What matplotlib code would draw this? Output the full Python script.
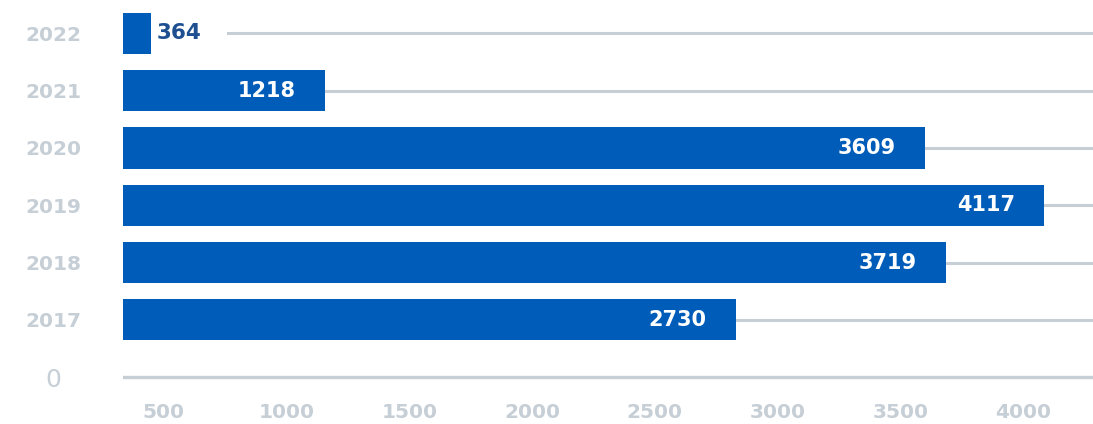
import matplotlib
matplotlib.use("Agg")
import matplotlib.pyplot as plt

# Data
years = ["2017", "2018", "2019", "2020", "2021", "2022"]
values = [2730, 3719, 4117, 3609, 1218, 364]          # printed labels
bar_ends = [2831, 3686, 4086, 3601, 1157, 448]       # drawn bar extents
bar_start = 334
x_ticks = [500, 1000, 1500, 2000, 2500, 3000, 3500, 4000]
y_labels = ["0"] + years

BLUE = "#005cb9"
GRAY = "#c6ced6"
DARK = "#1d4f91"
FONT = "DejaVu Sans"

fig = plt.figure(figsize=(10.93, 4.24), dpi=100)
W, H = 1093, 424
ax = fig.add_axes([123 / W, (424 - 394.3) / H, (1093 - 123) / W, (394.3 - 10.5) / H])
ax.set_xlim(bar_start, 4285)
ax.set_ylim(-0.3, 6.4)

pos = list(range(1, len(years) + 1))
# gridlines
for p in pos:
    ax.axhline(p, color=GRAY, lw=2.2, zorder=1)
ax.axhline(0, color=GRAY, lw=2.4, zorder=1)

widths = [e - bar_start for e in bar_ends]
ax.barh(pos, widths, left=bar_start, height=0.72, color=BLUE, zorder=3)

for p, v, e in zip(pos, values, bar_ends):
    if v < 800:
        ax.annotate(str(v), (e, p), xytext=(4, 0), textcoords="offset points",
                    ha="left", va="center", color=DARK, fontsize=15.5,
                    fontweight="bold", family=FONT, zorder=2.5,
                    bbox=dict(boxstyle="square,pad=1.2", fc="white", ec="none"))
    else:
        ax.annotate(str(v), (e, p), xytext=(-21, 0), textcoords="offset points",
                    ha="right", va="center", color="white", fontsize=15,
                    fontweight="bold", family=FONT, zorder=4)

ax.set_yticks(range(len(y_labels)))
ax.set_yticklabels(y_labels, ha="center")
ax.set_xticks(x_ticks)
ax.set_xticklabels([str(t) for t in x_ticks])
ax.tick_params(axis="y", length=0, pad=50, labelcolor=GRAY, labelsize=14.5)
ax.tick_params(axis="x", length=0, pad=6, labelcolor=GRAY, labelsize=14.5)
for lab in ax.get_xticklabels() + ax.get_yticklabels():
    lab.set_fontweight("bold")
    lab.set_family(FONT)
zero_lab = ax.get_yticklabels()[0]
zero_lab.set_fontsize(18)
zero_lab.set_fontweight("normal")
for s in ax.spines.values():
    s.set_visible(False)
ax.set_facecolor("white")

fig.savefig("out.png", dpi=100, facecolor="white")
